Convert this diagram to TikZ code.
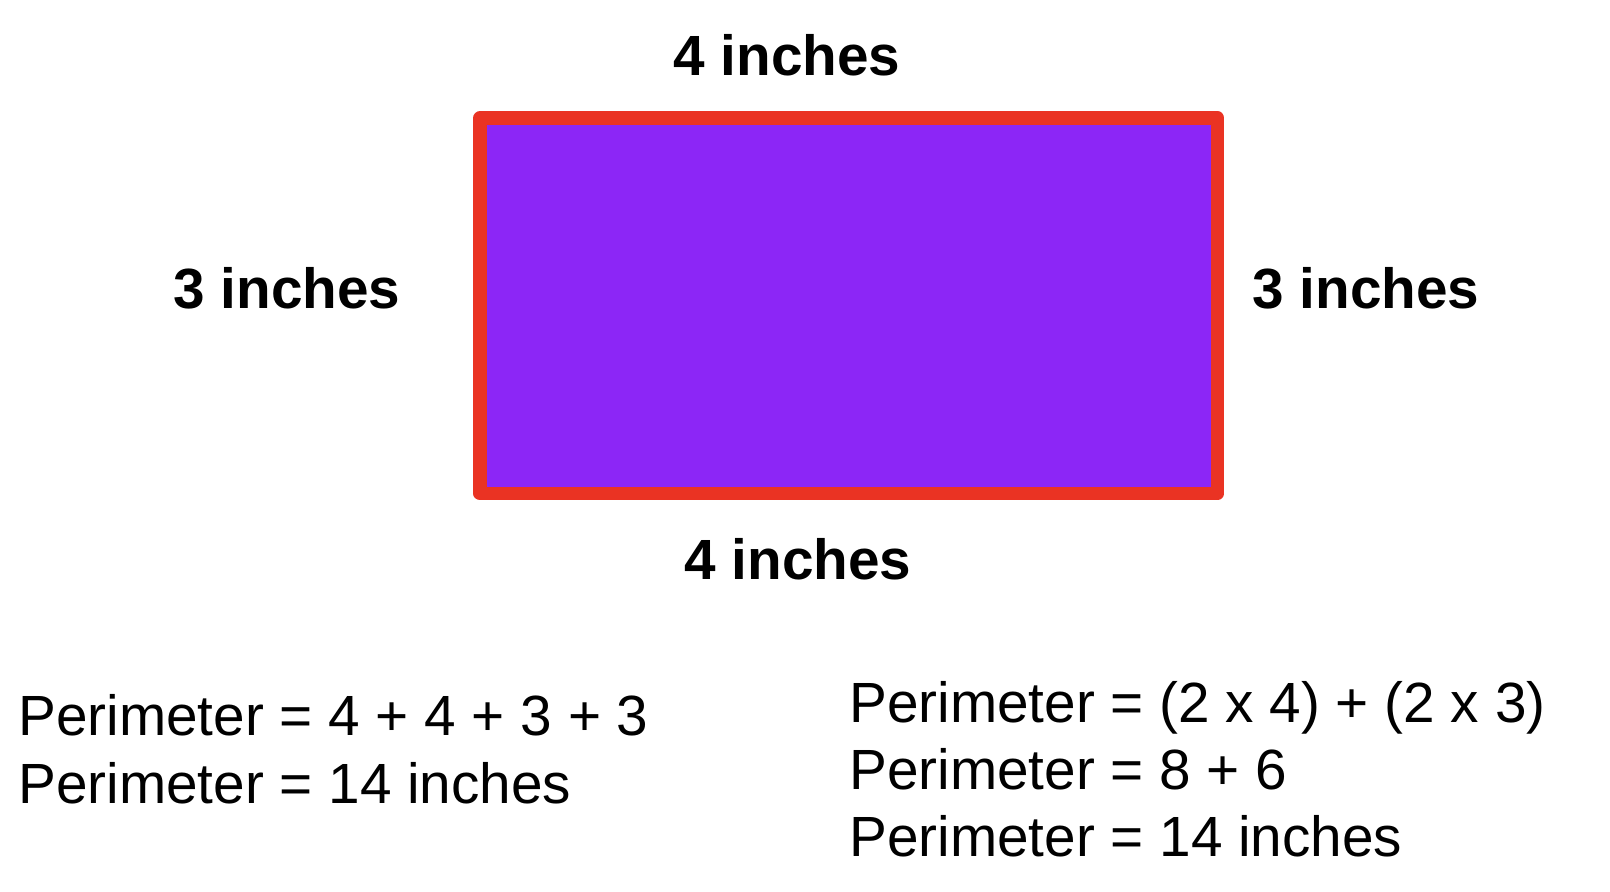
\documentclass[tikz,border=0pt]{standalone}
\usepackage{fontspec}
\setmainfont{Liberation Sans}
\definecolor{edgered}{HTML}{EA3323}
\definecolor{fillpurple}{HTML}{8C26F6}
\begin{document}
\begin{tikzpicture}[x=1pt,y=-1pt,
  dim/.style={anchor=base,inner sep=0pt,font=\fontsize{56.7}{67}\selectfont\bfseries},
  eq/.style={anchor=base west,inner sep=0pt,font=\fontsize{56.7}{67}\selectfont}]
\useasboundingbox (0,0) rectangle (1610,892);
\node[draw=edgered,fill=fillpurple,line width=13.5pt,line join=round,inner sep=0pt,
      minimum width=737.5pt,minimum height=375.5pt] (rect) at (848.75,305.75) {};
\node[dim] (top) at (787,75) {4 inches};
\node[dim] (bottom) at (798,579) {4 inches};
\node[dim] (left) at (287,308) {3 inches};
\node[dim] (right) at (1366,308) {3 inches};
\node[eq] (l1) at (18,735) {Perimeter = 4 + 4 + 3 + 3};
\node[eq] (l2) at (18,803) {Perimeter = 14 inches};
\node[eq] (r1) at (849,722) {Perimeter = (2 x 4) + (2 x 3)};
\node[eq] (r2) at (849,789) {Perimeter = 8 + 6};
\node[eq] (r3) at (849,856) {Perimeter = 14 inches};
\end{tikzpicture}
\end{document}
